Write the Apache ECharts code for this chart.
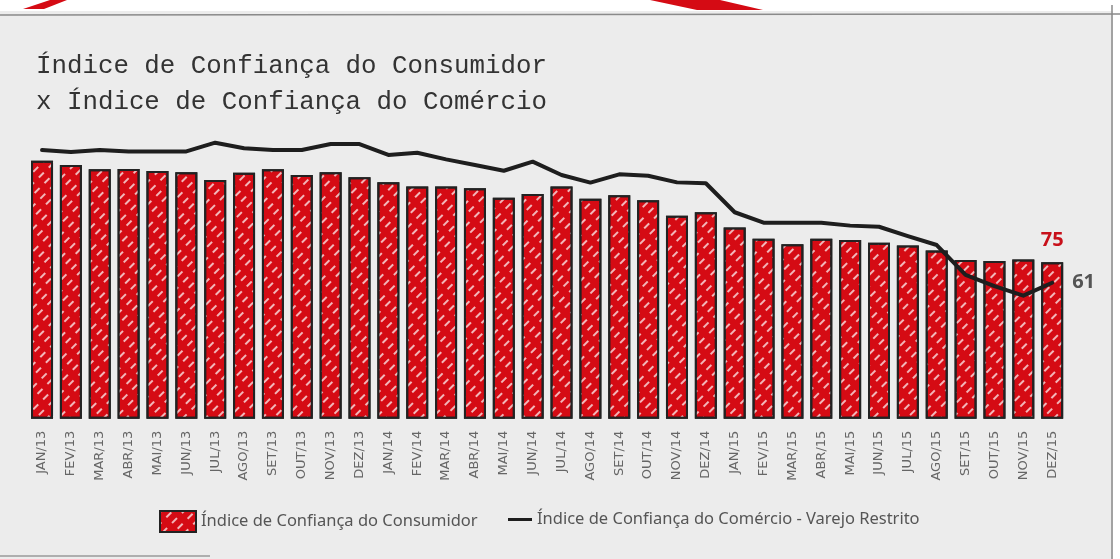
<!DOCTYPE html>
<html>
<head>
<meta charset="utf-8">
<script src="https://cdn.jsdelivr.net/npm/echarts@6/dist/echarts.min.js"></script>
<style>
  html, body { margin: 0; padding: 0; background: #fff; }
  #main { width: 1120px; height: 559px; }
</style>
</head>
<body>
<div id="main"></div>
<script>
// categorias (meses)
var meses = ['JAN/13', 'FEV/13', 'MAR/13', 'ABR/13', 'MAI/13', 'JUN/13', 'JUL/13', 'AGO/13', 'SET/13', 'OUT/13', 'NOV/13', 'DEZ/13',
    'JAN/14', 'FEV/14', 'MAR/14', 'ABR/14', 'MAI/14', 'JUN/14', 'JUL/14', 'AGO/14', 'SET/14', 'OUT/14', 'NOV/14', 'DEZ/14',
    'JAN/15', 'FEV/15', 'MAR/15', 'ABR/15', 'MAI/15', 'JUN/15', 'JUL/15', 'AGO/15', 'SET/15', 'OUT/15', 'NOV/15', 'DEZ/15'];

// Índice de Confiança do Consumidor (barras)
var consumidor = [123.7, 121.7, 119.6, 119.7, 118.8, 118.2, 114.5, 118.0, 119.6, 116.9, 118.2, 115.8,
    113.4, 111.3, 111.3, 110.5, 106.0, 107.8, 111.3, 105.5, 107.1, 104.7, 97.3, 99.0,
    91.7, 86.3, 83.6, 86.3, 85.7, 84.4, 83.0, 80.6, 76.1, 75.6, 76.4, 75.0];

// Índice de Confiança do Comércio - Varejo Restrito (linha)
var comercio = [120.5, 119.6, 120.5, 119.9, 119.9, 119.9, 123.8, 121.3, 120.5, 120.5, 123.2, 123.2,
    118.3, 119.3, 116.3, 113.8, 111.2, 115.3, 109.3, 105.9, 109.6, 109.0, 106.0, 105.6,
    92.6, 87.9, 87.9, 87.9, 86.6, 86.1, 81.9, 77.9, 64.5, 59.5, 55.2, 61.0];

var nomeBarra = 'Índice de Confiança do Consumidor';
var nomeLinha = 'Índice de Confiança do Comércio - Varejo Restrito';
var ultimo = meses.length - 1;

var myChart = echarts.init(document.getElementById('main'));

var option = {
    backgroundColor: '#ffffff',
    animation: false,
    title: {
        text: 'Índice de Confiança do Consumidor\nx Índice de Confiança do Comércio',
        left: 31,
        top: 43,
        textStyle: {
            fontFamily: 'Liberation Mono',
            fontSize: 25.8,
            fontWeight: 'normal',
            lineHeight: 36,
            color: '#333'
        }
    },
    graphic: [
        // fundo cinza e moldura
        { type: 'rect', z: -10, shape: { x: 0, y: 11, width: 1113, height: 548 }, style: { fill: '#ececec' } },
        { type: 'line', z: -9, shape: { x1: 0, y1: 15, x2: 1120, y2: 14 }, style: { stroke: '#8a8a8a', lineWidth: 1.5 } },
        { type: 'line', z: -9, shape: { x1: 1112, y1: 5, x2: 1112, y2: 559 }, style: { stroke: '#8a8a8a', lineWidth: 1.5 } },
        { type: 'line', z: -9, shape: { x1: 0, y1: 556, x2: 210, y2: 556 }, style: { stroke: '#9a9a9a', lineWidth: 1.5 } },
        // detalhes vermelhos no topo
        { type: 'polygon', z: -8, shape: { points: [[23, 9], [44, 9], [67, 0], [50, 0]] }, style: { fill: '#d50b14' } },
        { type: 'polygon', z: -8, shape: { points: [[650, 0], [720, 0], [763, 10], [697, 10]] }, style: { fill: '#d50b14' } }
    ],
    legend: [
        {
            data: [{ name: nomeBarra, icon: 'rect' }],
            left: 154,
            top: 505,
            itemWidth: 36,
            itemHeight: 21,
            textStyle: { fontFamily: 'Noto Sans', fontSize: 16.5, color: '#555' }
        },
        {
            data: [{ name: nomeLinha, icon: 'path://M0,0 L24,0 L24,3 L0,3 Z' }],
            left: 503,
            top: 506,
            itemWidth: 24,
            itemHeight: 21,
            textStyle: { fontFamily: 'Noto Sans', fontSize: 16.5, color: '#555' }
        }
    ],
    grid: {
        left: 27.6,
        right: 53.4,
        top: 118.7,
        bottom: 140.3,
        containLabel: false
    },
    xAxis: {
        type: 'category',
        data: meses,
        axisLine: { show: false },
        axisTick: { show: false },
        axisLabel: {
            rotate: 90,
            margin: 12,
            fontFamily: 'DejaVu Sans',
            fontSize: 13,
            color: '#666',
            interval: 0
        }
    },
    yAxis: [
        { type: 'value', min: 0, max: 143.86, show: false, splitLine: { show: false } },
        { type: 'value', min: 0, max: 134.56, show: false, splitLine: { show: false } }
    ],
    series: [
        {
            name: nomeBarra,
            type: 'bar',
            yAxisIndex: 0,
            barWidth: 22,
            data: consumidor.map(function (v, i) {
                if (i !== ultimo) return v;
                return {
                    value: v,
                    label: {
                        show: true,
                        position: 'top',
                        distance: 12,
                        formatter: '75',
                        fontFamily: 'Open Sans',
                        fontWeight: 'bold',
                        fontSize: 20,
                        color: '#c8101a'
                    }
                };
            }),
            itemStyle: {
                color: '#d50b14',
                borderColor: '#222',
                borderWidth: 2,
                decal: {
                    symbol: 'rect',
                    symbolSize: 1,
                    color: 'rgba(255,255,255,0.7)',
                    dashArrayX: [[7, 7]],
                    dashArrayY: [1.5, 6],
                    rotation: -Math.PI / 4
                }
            }
        },
        {
            name: nomeLinha,
            type: 'line',
            yAxisIndex: 1,
            data: comercio,
            symbol: 'none',
            clip: false,
            z: 5,
            lineStyle: { color: '#1e1e1e', width: 4, join: 'round', cap: 'round' },
            itemStyle: { color: '#1e1e1e' },
            endLabel: {
                show: true,
                distance: 20,
                formatter: '61',
                fontFamily: 'Open Sans',
                fontWeight: 'bold',
                fontSize: 20,
                color: '#555'
            }
        }
    ]
};

myChart.setOption(option);
</script>
</body>
</html>
